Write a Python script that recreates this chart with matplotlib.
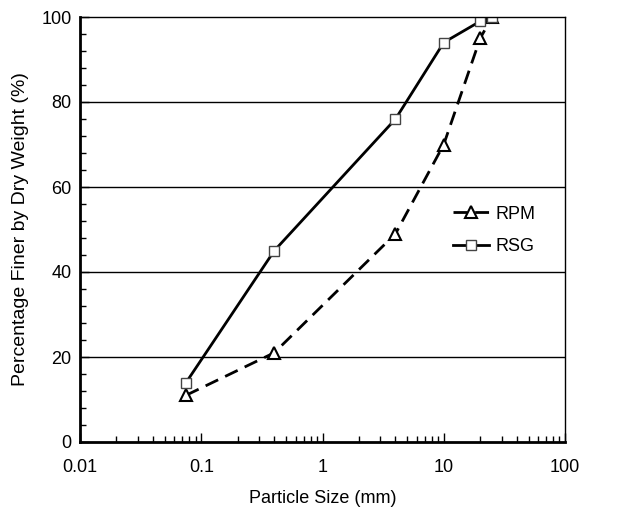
import numpy as np
from matplotlib import pyplot as plt
from matplotlib.ticker import MultipleLocator, FixedLocator, FixedFormatter, LogLocator, NullFormatter

plt.rcParams['font.family'] = ['Liberation Sans', 'DejaVu Sans']

size_mm = [0.075, 0.4, 4, 10, 20, 25]
rpm = [11, 21, 49, 70, 95, 100]
rsg = [14, 45, 76, 94, 99, 100]

fig = plt.figure(figsize=(6.29, 5.13), dpi=100)
ax = fig.add_axes([80 / 629, 1 - 442 / 513, 485 / 629, 425 / 513])

ax.plot(size_mm, rpm, color='black', lw=2, ls=(0, (5, 2.8)), marker='^', ms=9,
        mfc='white', mec='black', mew=1.5, label='RPM')
ax.plot(size_mm, rsg, color='black', lw=2, ls='-', marker='s', ms=6.5,
        mfc='white', mec='#444444', mew=1, label='RSG')

ax.set_xscale('log')
ax.set_xlim(0.01, 100)
ax.set_ylim(0, 100)

ax.xaxis.set_major_locator(FixedLocator([0.01, 0.1, 1, 10, 100]))
ax.xaxis.set_major_formatter(FixedFormatter(['0.01', '0.1', '1', '10', '100']))
ax.xaxis.set_minor_locator(LogLocator(base=10, subs=np.arange(2, 10)))
ax.xaxis.set_minor_formatter(NullFormatter())
ax.yaxis.set_major_locator(MultipleLocator(20))
ax.yaxis.set_minor_locator(MultipleLocator(4))

ax.tick_params(which='both', direction='in', top=False, right=False, labelsize=13)
ax.tick_params(which='major', length=6.5, width=1)
ax.tick_params(which='minor', length=4.3, width=1)
ax.tick_params(axis='x', which='major', pad=12)
ax.tick_params(axis='y', which='major', pad=6)

for y in [20, 40, 60, 80]:
    ax.axhline(y, color='black', lw=1, zorder=0)

for side in ['left', 'bottom']:
    ax.spines[side].set_linewidth(2)
for side in ['top', 'right']:
    ax.spines[side].set_linewidth(1)

ax.set_xlabel('Particle Size (mm)', fontsize=13, labelpad=10)
ax.set_ylabel('Percentage Finer by Dry Weight (%)', fontsize=14, labelpad=9)

ax.legend(loc='upper left', bbox_to_anchor=(0.735, 0.594), frameon=False, fontsize=13,
          handlelength=2.0, handletextpad=0.35, labelspacing=0.85)

fig.savefig('out.png', dpi=100)
